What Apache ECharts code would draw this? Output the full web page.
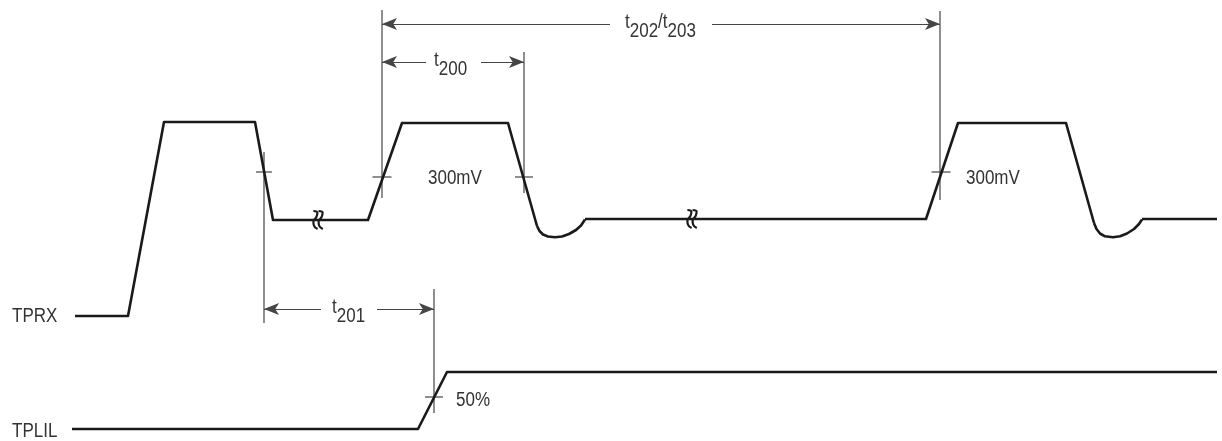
<!DOCTYPE html>
<html><head><meta charset="utf-8">
<script src="https://cdn.jsdelivr.net/npm/echarts@6/dist/echarts.min.js"></script>
<style>html,body{margin:0;padding:0;background:#fff}#c{width:1222px;height:441px}</style>
</head><body><div id="c"></div>
<script>
// ---- Signal data: [time, level] in the diagram's own units ----
const tprxMain = [[75,316],[128,316],[164,122],[255,122],[273,220],[368,220],[402,123],[508,123],[537,226]];
const tprxUndershoot1 = [[537,226],[539.5,231],[543,234.5],[548,236.5],[555,237.3],[562,236.5],[569,234],[576,230],[581,225.5],[585,219.5]];
const tprxMiddle = [[585,219],[926,219],[958,123],[1066,123],[1094,223]];
const tprxUndershoot2 = [[1094,223],[1096.5,229],[1100,233.5],[1105,236.3],[1113,237.3],[1120,236.3],[1127,233.5],[1134,229],[1139,224],[1142,219.5]];
const tprxTail = [[1142,219],[1217,219]];
const tplilWave = [[72,429],[418,429],[447,372],[1217,372]];

// break marks on the TPRX line
const breakMarks = [[318,220],[692,219]];

// timing reference lines: [time, levelTop, levelBottom]
const refLines = [[264,152,323],[382,10,198],[524,52,193],[940,11,200],[434,289,413]];
// crossing ticks: [time, level, halfWidth]
const crossTicks = [[264,172,8],[382,177,9.5],[524,177,9],[941,172,9.5],[434,397,9]];
// dimension arrows: [level, fromTime, toTime, gapStart, gapEnd]
const dimArrows = [[24,382,940,610,712],[62,382,524,426,481],[309,264,434,321,377]];

// text labels: [text, time, level]
const textLabels = [
  ['TPRX',12,316],
  ['TPLIL',12,431],
  ['300mV',428,178],
  ['300mV',966,178],
  ['50%',456,400],
  ['{t|t}{s|202}{t|/t}{s|203}',625,22],
  ['{t|t}{s|200}',434,60],
  ['{t|t}{s|201}',332,307]
];

const FONT = "'Liberation Sans', Arial, sans-serif";
const TXT = '#333333';
const WAVE = {color:'#1a1a1a', width:2.6};
const DIM = {color:'#454545', width:1.2};

function seg(points, st, smooth, z){
  return {type:'line', data:points, smooth:smooth||false, symbol:'none', silent:true, animation:false,
    z: z||2, lineStyle:{color:st.color, width:st.width, cap:'butt', join:'round'}};
}

const series = [];
[tprxMain, tprxMiddle, tprxTail, tplilWave, tprxUndershoot1, tprxUndershoot2].forEach(p=>series.push(seg(p,WAVE,false,3)));

// break marks: two small S strokes
const squiggle = [[-2,-9],[2,-7.5],[1,-3],[-2,1.5],[-1.5,5.5],[2.2,9]];
breakMarks.forEach(([bx,by])=>{
  [-2.6,2.6].forEach(dx=>{
    series.push(seg(squiggle.map(([sx,sy])=>[bx+dx+sx, by+sy]), {color:'#1a1a1a',width:2.2}, 0.5, 4));
  });
});

refLines.forEach(([x,a,b])=>series.push(seg([[x,a],[x,b]],DIM,false,2)));
crossTicks.forEach(([x,y,h])=>series.push(seg([[x-h,y],[x+h,y]],DIM,false,2)));

const mlData = [];
dimArrows.forEach(([y,from,to,g1,g2])=>{
  mlData.push([{coord:[g1,y]},{coord:[from,y]}]);
  mlData.push([{coord:[g2,y]},{coord:[to,y]}]);
});
series.push({type:'line', data:[], silent:true, animation:false,
  markLine:{silent:true, animation:false, symbol:['none','arrow'], symbolSize:[9,15],
    itemStyle:{color:'#1a1a1a'},
    lineStyle:{color:DIM.color, width:DIM.width, type:'solid'}, label:{show:false},
    emphasis:{disabled:true}, data:mlData}});

const chart = echarts.init(document.getElementById('c'), null, {renderer:'canvas'});
chart.setOption({
  animation:false,
  backgroundColor:'#ffffff',
  grid:{left:0,right:0,top:0,bottom:0},
  xAxis:{type:'value', min:0, max:1222, show:false},
  yAxis:{type:'value', min:0, max:441, inverse:true, show:false},
  series
});

// text placed through the same axes, drawn condensed like the original lettering
const tokenBase = {fontFamily:FONT, fontSize:20, fill:TXT, verticalAlign:'middle'};
const graphics = textLabels.map(([t,x,y])=>{
  const p = chart.convertToPixel({xAxisIndex:0, yAxisIndex:0}, [x,y]);
  return {type:'text', x:p[0], y:p[1], scaleX:0.85, silent:true, z:10,
    style:{text:t, fontFamily:FONT, fontSize:20, fill:TXT,
      align:'left', verticalAlign:'middle', textAlign:'left', textVerticalAlign:'middle',
      rich:{ t:Object.assign({}, tokenBase), s:Object.assign({padding:[18,0,0,0]}, tokenBase) }}};
});
chart.setOption({graphic:graphics});
</script></body></html>
